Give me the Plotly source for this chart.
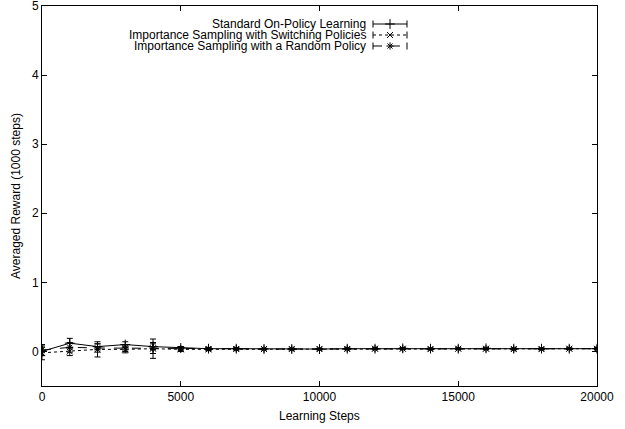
import plotly.graph_objects as go

steps = [i * 1000 for i in range(21)]
standard = [0.00, 0.12, 0.07, 0.10, 0.07, 0.05, 0.04, 0.04, 0.035, 0.035, 0.035,
            0.04, 0.04, 0.045, 0.04, 0.04, 0.045, 0.04, 0.04, 0.04, 0.04]
standard_err = [0.06, 0.07, 0.04, 0.04, 0.04, 0.02, 0.015, 0.01, 0.01, 0.01, 0.01,
                0.01, 0.01, 0.01, 0.01, 0.01, 0.01, 0.01, 0.01, 0.01, 0.01]
switching = [-0.02, 0.00, 0.03, 0.03, 0.04, 0.03, 0.03, 0.035, 0.035, 0.035, 0.035,
             0.035, 0.04, 0.04, 0.035, 0.04, 0.04, 0.035, 0.035, 0.04, 0.04]
switching_err = [0.10, 0.06, 0.11, 0.05, 0.14, 0.03, 0.02, 0.015, 0.01, 0.01, 0.01,
                 0.01, 0.01, 0.01, 0.01, 0.01, 0.01, 0.01, 0.01, 0.01, 0.01]
random_pol = [0.02, 0.06, 0.05, 0.05, 0.05, 0.04, 0.04, 0.04, 0.035, 0.035, 0.035,
              0.04, 0.04, 0.04, 0.035, 0.04, 0.04, 0.035, 0.035, 0.04, 0.04]
random_err = [0.08, 0.07, 0.06, 0.05, 0.08, 0.03, 0.02, 0.015, 0.01, 0.01, 0.01,
              0.01, 0.01, 0.01, 0.01, 0.01, 0.01, 0.01, 0.01, 0.01, 0.01]

x_ticks = [0, 5000, 10000, 15000, 20000]
x_tick_labels = ["0", "5000", "10000", "15000", "20000"]
y_ticks = [0, 1, 2, 3, 4, 5]
y_tick_labels = ["0", "1", "2", "3", "4", "5"]

labels = ["Standard On-Policy Learning",
          "Importance Sampling with Switching Policies",
          "Importance Sampling with a Random Policy"]
x_title = "Learning Steps"
y_title = "Averaged Reward (1000 steps)"
FONT = "Liberation Sans, Arial, Helvetica, sans-serif"
FS = 12

# plot-area geometry in pixels (figure 625x429)
L, R, T, B = 42, 597, 6, 386
PW, PH = R - L, B - T


def px_x(p):
    return (p - L) / PW


def px_y(p):
    return (B - p) / PH


series = [
    (standard, standard_err, "solid", "cross-thin", 7),
    (switching, switching_err, "dot", "x-thin", 6),
    (random_pol, random_err, "dash", "asterisk", 6),
]

fig = go.Figure()
for (vals, errs, dash, sym, msz), name in zip(series, labels):
    fig.add_trace(go.Scatter(
        x=steps, y=vals, mode="lines+markers", name=name, showlegend=False,
        line=dict(color="black", width=1, dash=dash),
        marker=dict(symbol=sym, size=msz, color="black",
                    line=dict(color="black", width=1)),
        error_y=dict(type="data", array=errs, visible=True, color="black",
                     thickness=1, width=3),
    ))

# key (gnuplot style: text right-aligned, sample on the right)
key_rows_px = [24, 35, 46]
x0, x1 = px_x(373), px_x(407)
for (vals, errs, dash, sym, msz), name, kp in zip(series, labels, key_rows_px):
    ky = px_y(kp)
    fig.add_trace(go.Scatter(
        x=[x0, x1], y=[ky, ky], xaxis="x2", yaxis="y2", mode="lines+markers",
        showlegend=False, hoverinfo="skip",
        line=dict(color="black", width=1, dash=dash),
        marker=dict(symbol="line-ns", size=5, color="black",
                    line=dict(color="black", width=1)),
    ))
    fig.add_trace(go.Scatter(
        x=[(x0 + x1) / 2], y=[ky], xaxis="x2", yaxis="y2", mode="markers",
        showlegend=False, hoverinfo="skip",
        marker=dict(symbol=sym, size=msz, color="black",
                    line=dict(color="black", width=1)),
    ))
    fig.add_annotation(x=px_x(368), y=ky, xref="x2", yref="y2", text=name,
                       showarrow=False, xanchor="right", yanchor="middle",
                       font=dict(family=FONT, size=FS, color="black"))

# axis titles
fig.add_annotation(x=0.5, y=px_y(416), xref="paper", yref="paper", text=x_title,
                   showarrow=False, xanchor="center", yanchor="middle",
                   font=dict(family=FONT, size=FS, color="black"))
fig.add_annotation(x=px_x(16), y=0.5, xref="paper", yref="paper", text=y_title,
                   showarrow=False, xanchor="center", yanchor="middle",
                   textangle=-90,
                   font=dict(family=FONT, size=FS, color="black"))

fig.update_layout(
    width=625, height=429,
    margin=dict(l=L, r=625 - R, t=T, b=429 - B, autoexpand=False),
    paper_bgcolor="white", plot_bgcolor="white",
    font=dict(family=FONT, size=FS, color="black"),
    xaxis=dict(range=[0, 20000], tickvals=x_ticks, ticktext=x_tick_labels,
               ticks="inside", ticklen=5, tickcolor="black", mirror="ticks",
               showline=True, linecolor="black", linewidth=1, showgrid=False,
               zeroline=False, automargin=False, ticklabeloverflow="allow"),
    yaxis=dict(range=[-0.5, 5], tickvals=y_ticks, ticktext=y_tick_labels,
               ticks="inside", ticklen=5, tickcolor="black", mirror="ticks",
               showline=True, linecolor="black", linewidth=1, showgrid=False,
               zeroline=False, automargin=False, ticklabeloverflow="allow"),
    xaxis2=dict(range=[0, 1], overlaying="x", visible=False, fixedrange=True),
    yaxis2=dict(range=[0, 1], overlaying="y", visible=False, fixedrange=True),
    showlegend=False,
)

fig.write_html("out.html",
               config={"displayModeBar": False},
               post_script="document.body.style.margin='0';"
                           "document.body.style.padding='0';")
